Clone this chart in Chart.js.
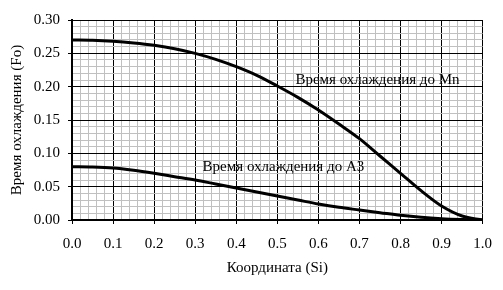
<!DOCTYPE html>
<html>
<head>
<meta charset="utf-8">
<script src="https://cdn.jsdelivr.net/npm/chart.js@4.4.1/dist/chart.umd.min.js"></script>
<style>
  html, body { margin: 0; padding: 0; background: #fff; }
  #wrap { width: 503px; height: 290px; }
</style>
</head>
<body>
<div id="wrap"><canvas id="chart" width="503" height="290"></canvas></div>
<script>
// coordinate (Si)
const coords = [0, 0.05, 0.1, 0.15, 0.2, 0.25, 0.3, 0.35, 0.4, 0.45, 0.5,
                0.55, 0.6, 0.65, 0.7, 0.75, 0.8, 0.85, 0.9, 0.95, 1.0];
// time to Mn
const timeMn = [0.270, 0.2695, 0.268, 0.2655, 0.262, 0.257, 0.250, 0.241, 0.230, 0.217, 0.201,
                0.184, 0.165, 0.144, 0.122, 0.096, 0.070, 0.044, 0.021, 0.006, 0.000];
// time to A3
const timeA3 = [0.080, 0.0795, 0.078, 0.0745, 0.070, 0.065, 0.060, 0.054, 0.048, 0.042, 0.036,
                0.030, 0.024, 0.019, 0.015, 0.011, 0.007, 0.004, 0.002, 0.0008, 0.000];

const labelMn = 'Время охлаждения до Mn';
const labelA3 = 'Время охлаждения до A3';

const FONT = '"Liberation Serif", "Times New Roman", serif';
const FSIZE = 15;

const isMajor = (v, step) => Math.abs(Math.round(v * 100) % step) === 0;

const curveLabels = {
  id: 'curveLabels',
  afterDatasetsDraw(chart) {
    const { ctx, scales } = chart;
    ctx.save();
    ctx.font = FSIZE + 'px ' + FONT;
    ctx.fillStyle = '#000';
    ctx.textBaseline = 'middle';
    ctx.textAlign = 'left';
    ctx.fillText(labelMn, scales.x.getPixelForValue(0.544), scales.y.getPixelForValue(0.21));
    ctx.fillText(labelA3, scales.x.getPixelForValue(0.318), scales.y.getPixelForValue(0.0795));
    ctx.restore();
  }
};

new Chart(document.getElementById('chart'), {
  type: 'line',
  data: {
    datasets: [
      {
        label: labelMn,
        data: coords.map((x, i) => ({ x, y: timeMn[i] })),
        borderColor: '#000',
        borderWidth: 3,
        pointRadius: 0,
        cubicInterpolationMode: 'monotone'
      },
      {
        label: labelA3,
        data: coords.map((x, i) => ({ x, y: timeA3[i] })),
        borderColor: '#000',
        borderWidth: 3,
        pointRadius: 0,
        cubicInterpolationMode: 'monotone'
      }
    ]
  },
  options: {
    responsive: false,
    animation: false,
    layout: { padding: { left: 0, right: 18, top: 20, bottom: 0 } },
    plugins: { legend: { display: false }, tooltip: { enabled: false } },
    scales: {
      x: {
        type: 'linear',
        min: 0,
        max: 1,
        afterFit: (s) => { s.height = 70; },
        border: { color: '#000', width: 2 },
        grid: {
          color: (c) => isMajor(c.tick.value, 10) ? '#000' : '#c0c0c0',
          tickColor: (c) => isMajor(c.tick.value, 10) ? '#000' : 'rgba(0,0,0,0)',
          lineWidth: 1,
          tickLength: 4
        },
        ticks: {
          stepSize: 0.02,
          autoSkip: false,
          maxRotation: 0,
          padding: 11,
          color: '#000',
          font: { family: FONT, size: FSIZE },
          callback: (v) => isMajor(v, 10) ? v.toFixed(1) : ''
        },
        title: {
          display: true,
          text: 'Координата (Si)',
          color: '#000',
          font: { family: FONT, size: FSIZE },
          padding: { top: 0, bottom: 13 }
        }
      },
      y: {
        min: 0,
        max: 0.30,
        afterFit: (s) => { s.width = 72; },
        border: { color: '#000', width: 2 },
        grid: {
          color: (c) => isMajor(c.tick.value, 5) ? '#000' : '#c0c0c0',
          tickColor: (c) => isMajor(c.tick.value, 5) ? '#000' : 'rgba(0,0,0,0)',
          lineWidth: 1,
          tickLength: 4
        },
        ticks: {
          stepSize: 0.01,
          autoSkip: false,
          padding: 8,
          color: '#000',
          font: { family: FONT, size: FSIZE },
          callback: (v) => isMajor(v, 5) ? v.toFixed(2) : ''
        },
        title: {
          display: true,
          text: 'Время охлаждения (Fo)',
          color: '#000',
          font: { family: FONT, size: FSIZE },
          padding: { top: 8, bottom: 0 }
        }
      }
    }
  },
  plugins: [curveLabels]
});
</script>
</body>
</html>
